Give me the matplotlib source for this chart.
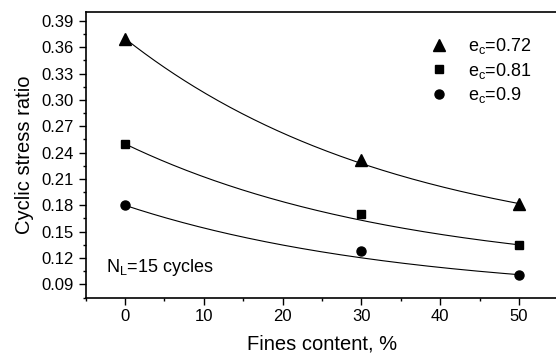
import numpy as np
import matplotlib
matplotlib.use('Agg')
import matplotlib.pyplot as plt
from matplotlib.ticker import MultipleLocator

plt.rcParams['font.family'] = ['Liberation Sans', 'DejaVu Sans']
plt.rcParams['mathtext.fontset'] = 'custom'
plt.rcParams['mathtext.rm'] = 'Liberation Sans'
plt.rcParams['mathtext.it'] = 'Liberation Sans'

# data
fines = [0, 30, 50]                 # fines content, %
csr_072 = [0.370, 0.232, 0.182]     # e_c = 0.72
csr_081 = [0.250, 0.170, 0.135]     # e_c = 0.81
csr_090 = [0.180, 0.128, 0.101]     # e_c = 0.90
labels = ['e$_\\mathrm{c}$=0.72', 'e$_\\mathrm{c}$=0.81', 'e$_\\mathrm{c}$=0.9']
markers = ['^', 's', 'o']
msizes = [8, 6.2, 6.5]

# exponential decay y = y0 + A*exp(-x/t), common t, anchored at the end points
t_decay = 35.0


def exp_curve(x, y, xs):
    x = np.asarray(x, float)
    y = np.asarray(y, float)
    e0 = np.exp(-x[0] / t_decay)
    e1 = np.exp(-x[-1] / t_decay)
    A = (y[0] - y[-1]) / (e0 - e1)
    y0 = y[0] - A * e0
    return y0 + A * np.exp(-xs / t_decay)


fig = plt.figure(figsize=(5.56, 3.6), dpi=100)
ax = fig.add_axes([0.154, 0.1736, 0.8504, 0.7925])

xs = np.linspace(0, 50, 200)
handles = []
for y, m, ms, lab in zip([csr_072, csr_081, csr_090], markers, msizes, labels):
    ax.plot(xs, exp_curve(fines, y, xs), color='black', linewidth=0.8)
    h, = ax.plot(fines, y, linestyle='none', marker=m, markersize=ms,
                 color='black', label=lab)
    handles.append(h)

ax.set_xlim(-5, 55)
ax.set_ylim(0.075, 0.40)
ax.xaxis.set_major_locator(MultipleLocator(10))
ax.xaxis.set_minor_locator(MultipleLocator(5))
ax.yaxis.set_minor_locator(MultipleLocator(0.015))
yt = np.arange(0.09, 0.391, 0.03)
ax.set_yticks(yt)
ax.set_yticklabels(['%.2f' % v for v in yt])
ax.tick_params(which='major', direction='out', length=5, width=1, labelsize=12)
ax.tick_params(which='minor', direction='out', length=2.5, width=1)
for s in ax.spines.values():
    s.set_linewidth(1.2)

ax.set_xlabel('Fines content, %', fontsize=14.5, labelpad=7)
ax.set_ylabel('Cyclic stress ratio', fontsize=14.5, labelpad=5)

ax.text(-2.4, 0.104, 'N$_\\mathrm{L}$=15 cycles', fontsize=13, va='baseline')

ax.legend(handles=handles, loc='upper left',
          bbox_to_anchor=((428 - 85.6) / 472.8, (297.5 - 36) / 285.3),
          frameon=False, fontsize=13, handlelength=1.2, handletextpad=1.0,
          labelspacing=0.25, borderpad=0, borderaxespad=0)

fig.savefig('out.png', dpi=100)
